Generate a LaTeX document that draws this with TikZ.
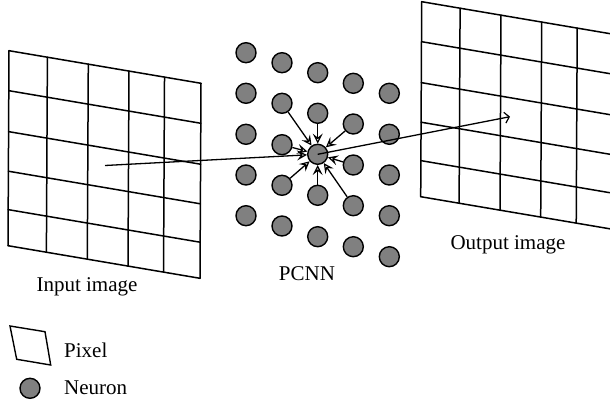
\documentclass[tikz,border=0pt]{standalone}
\usepackage{fontspec}
\setmainfont{Liberation Serif}
\usetikzlibrary{arrows.meta}
\begin{document}
\begin{tikzpicture}[x=1pt,y=-1pt,
  gridline/.style={line width=1.5pt,line cap=round,line join=round},
  neuron/.style={circle,draw=black,fill=black!50,line width=1.4pt,minimum size=20pt,inner sep=0pt},
  inarr/.style={line width=1.3pt,-{Stealth[open,length=10pt,width=10pt,inset=4pt,line width=1.2pt]}},
  outarr/.style={line width=1.3pt,-{Straight Barb[length=4.5pt,width=11pt,line width=1.2pt]}},
  lbl/.style={font=\fontsize{21}{24}\selectfont,inner sep=0pt}]
\useasboundingbox (0,0) rectangle (610,404);
\clip (0,0) rectangle (610,404);
% left grid
\begin{scope}[shift={(9,50.7)},x={(192pt,-32.6pt)},y={(-1pt,-195pt)}]
  \foreach \a in {0,0.2,0.413,0.625,0.81,1} \draw[gridline] (\a,0) -- (\a,1);
  \foreach \b in {0,0.205,0.415,0.618,0.815,1} \draw[gridline] (0,\b) -- (1,\b);
\end{scope}
% right grid
\begin{scope}[shift={(421.7,1.7)},x={(192pt,-32.6pt)},y={(-1pt,-195pt)}]
  \foreach \a in {0,0.2,0.413,0.625,0.81,1} \draw[gridline] (\a,0) -- (\a,1);
  \foreach \b in {0,0.205,0.415,0.618,0.815,1} \draw[gridline] (0,\b) -- (1,\b);
\end{scope}
\coordinate (inpt) at (105,165.5);
\coordinate (outpt) at (510,116.7);
% neurons
\node[neuron] (n11) at (246,52.7) {};
\node[neuron] (n12) at (246,93.3) {};
\node[neuron] (n13) at (246,134.3) {};
\node[neuron] (n14) at (246,175) {};
\node[neuron] (n15) at (246,215.7) {};
\node[neuron] (n21) at (282,62.7) {};
\node[neuron] (n22) at (282,103.3) {};
\node[neuron] (n23) at (282,144.7) {};
\node[neuron] (n24) at (282,185.3) {};
\node[neuron] (n25) at (282,226) {};
\node[neuron] (n31) at (317.7,72.7) {};
\node[neuron] (n32) at (317.7,113.3) {};
\node[neuron] (n33) at (317.7,154.3) {};
\node[neuron] (n34) at (317.7,195.3) {};
\node[neuron] (n35) at (317.7,236.7) {};
\node[neuron] (n41) at (353.3,83.3) {};
\node[neuron] (n42) at (353.3,124) {};
\node[neuron] (n43) at (353.3,165) {};
\node[neuron] (n44) at (353.3,205.7) {};
\node[neuron] (n45) at (353.3,246.7) {};
\node[neuron] (n51) at (389.3,93.3) {};
\node[neuron] (n52) at (389.3,134.3) {};
\node[neuron] (n53) at (389.3,175) {};
\node[neuron] (n54) at (389.3,215.7) {};
\node[neuron] (n55) at (389.3,256.7) {};
% arrows into the centre neuron
\foreach \s in {n22,n32,n42,n23,n43,n24,n34,n44}
  \draw[inarr] (\s) -- (n33);
\draw[inarr] (inpt) -- (n33);
\draw[outarr] (n33.center) -- (outpt);
% labels
\node[lbl,anchor=base] (linput) at (87,291.5) {Input image};
\node[lbl,anchor=base] (lpcnn) at (307,280) {PCNN};
\node[lbl,anchor=base] (loutput) at (508,249) {Output image};
% legend
\draw[line width=1.4pt,line join=miter] (10,326) -- (45,331.7) -- (50.7,365) -- (16.7,359.3) -- cycle;
\node[lbl,anchor=base west] (lpixel) at (64,357.3) {Pixel};
\node[neuron] (lneuron) at (30,388.3) {};
\node[lbl,anchor=base west] (lneur) at (64,394) {Neuron};
\end{tikzpicture}
\end{document}
